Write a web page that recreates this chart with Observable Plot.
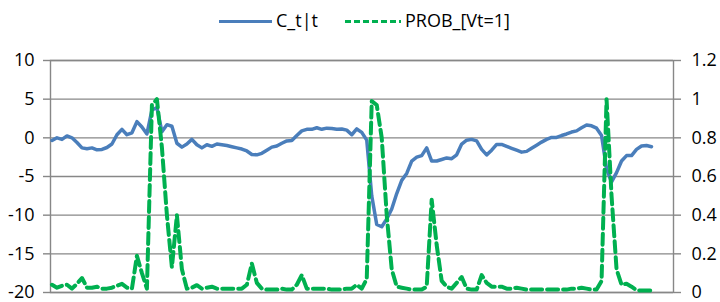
<!DOCTYPE html>
<html><head><meta charset="utf-8">
<script src="https://cdn.jsdelivr.net/npm/d3@7"></script>
<script src="https://cdn.jsdelivr.net/npm/@observablehq/plot@0.6"></script>
<style>
body{margin:0;background:#fff;font-family:"Open Sans",sans-serif;}
#legend{position:relative;height:40px;width:720px;}
.sw{position:absolute;top:20px;height:3px;}
.lt{position:absolute;top:8px;font-size:18px;line-height:24px;color:#000;}
</style></head><body>
<div id="legend"></div>
<div id="chart"></div>
<script>
const seriesNames = ["C_t|t", "PROB_[Vt=1]"];
const seriesColors = ["#4A7EBB", "#00B050"];
const leftTicks = [-20, -15, -10, -5, 0, 5, 10];
const rightTicks = [0, 0.2, 0.4, 0.6, 0.8, 1, 1.2];
const cValues = [-0.35,0,-0.2,0.25,0,-0.6,-1.3,-1.4,-1.3,-1.55,-1.5,-1.25,-0.8,0.4,1.1,0.4,0.65,2.1,1.4,0.5,
3.6,3.9,0.8,1.7,1.5,-0.7,-1.2,-0.8,-0.2,-0.9,-1.3,-0.9,-1.1,-0.8,-0.9,-1.0,-1.15,-1.3,-1.45,-1.7,
-2.15,-2.2,-2.0,-1.6,-1.2,-1.05,-0.7,-0.4,-0.35,0.3,0.9,1.1,1.1,1.3,1.1,1.25,1.2,1.1,1.15,1.0,
0.4,1.15,0.7,-0.3,-7.5,-11.2,-11.5,-10.5,-9.2,-7.2,-5.5,-4.6,-3.0,-2.5,-2.3,-1.3,-3.0,-3.0,-2.8,-2.6,
-2.7,-2.2,-0.8,-0.3,-0.2,-0.4,-1.5,-2.2,-1.6,-0.85,-0.85,-1.1,-1.35,-1.6,-1.85,-1.75,-1.35,-0.95,-0.55,-0.2,
0.05,0.05,0.3,0.5,0.75,0.9,1.3,1.65,1.55,1.25,0.3,-4.0,-5.7,-4.5,-3.0,-2.3,-2.3,-1.5,-1.05,-1.0,-1.15];
const probValues = [0.04,0.025,0.035,0.04,0.02,0.045,0.075,0.025,0.025,0.03,0.02,0.02,0.025,0.035,0.045,0.025,0.02,0.19,0.1,0.02,
0.97,1.0,0.75,0.4,0.13,0.4,0.12,0.02,0.025,0.038,0.02,0.025,0.03,0.02,0.02,0.02,0.02,0.02,0.02,0.04,
0.15,0.05,0.02,0.015,0.015,0.015,0.02,0.015,0.015,0.04,0.09,0.02,0.02,0.02,0.02,0.02,0.015,0.015,0.015,0.02,
0.02,0.04,0.02,0.07,0.99,0.97,0.8,0.4,0.12,0.03,0.025,0.02,0.015,0.015,0.015,0.03,0.48,0.245,0.06,0.03,
0.02,0.05,0.08,0.02,0.015,0.015,0.09,0.05,0.03,0.03,0.03,0.02,0.02,0.025,0.02,0.015,0.015,0.015,0.015,0.015,
0.015,0.015,0.015,0.015,0.02,0.02,0.025,0.02,0.015,0.015,0.06,1.0,0.5,0.12,0.04,0.045,0.03,0.012,0.01,0.01,0.01];

// map right-axis (probability) values onto the left scale
const toLeft = p => -20 + p * 25;
const fromLeft = v => +((v + 20) / 25).toFixed(2);

const cData = cValues.map((v, i) => ({i, v}));
const pData = probValues.map((p, i) => ({i, v: toLeft(p)}));

// legend
const leg = document.getElementById("legend");
leg.innerHTML =
  `<div class="sw" style="left:219px;width:53px;background:${seriesColors[0]}"></div>` +
  `<div class="lt" style="left:276px">${seriesNames[0]}</div>` +
  `<div class="sw" style="left:345px;width:56px;background:repeating-linear-gradient(to right, ${seriesColors[1]} 0 6px, transparent 6px 9px)"></div>` +
  `<div class="lt" style="left:405px">${seriesNames[1]}</div>`;

const chart = Plot.plot({
  width: 720, height: 262,
  marginTop: 20, marginBottom: 10, marginLeft: 50, marginRight: 47,
  x: {domain: [-0.3, 124.4], axis: null},
  y: {domain: [-20, 10], axis: null},
  style: {fontFamily: "Open Sans", fontSize: "18px", color: "#000", background: "#fff"},
  marks: [
    Plot.ruleY(leftTicks, {stroke: "#878787", strokeWidth: 1.4}),
    Plot.frame({stroke: "#878787", strokeWidth: 1.4}),
    Plot.axisY(leftTicks, {anchor: "left", tickSize: 7, tickPadding: 9, stroke: "#878787", strokeWidth: 1.4,
      fill: "#000", fontSize: 18, tickFormat: d => String(d), label: null}),
    Plot.axisY(rightTicks.map(toLeft), {anchor: "right", tickSize: 7, tickPadding: 11, stroke: "#878787", strokeWidth: 1.4,
      fill: "#000", fontSize: 18, tickFormat: d => String(fromLeft(d)), label: null}),
    Plot.line(cData, {x: "i", y: "v", stroke: seriesColors[0], strokeWidth: 3.5, strokeLinejoin: "round", strokeLinecap: "round"}),
    Plot.line(pData, {x: "i", y: "v", stroke: seriesColors[1], strokeWidth: 4, strokeDasharray: "11,5", strokeLinejoin: "round"})
  ]
});
document.getElementById("chart").appendChild(chart);
</script>
</body></html>
